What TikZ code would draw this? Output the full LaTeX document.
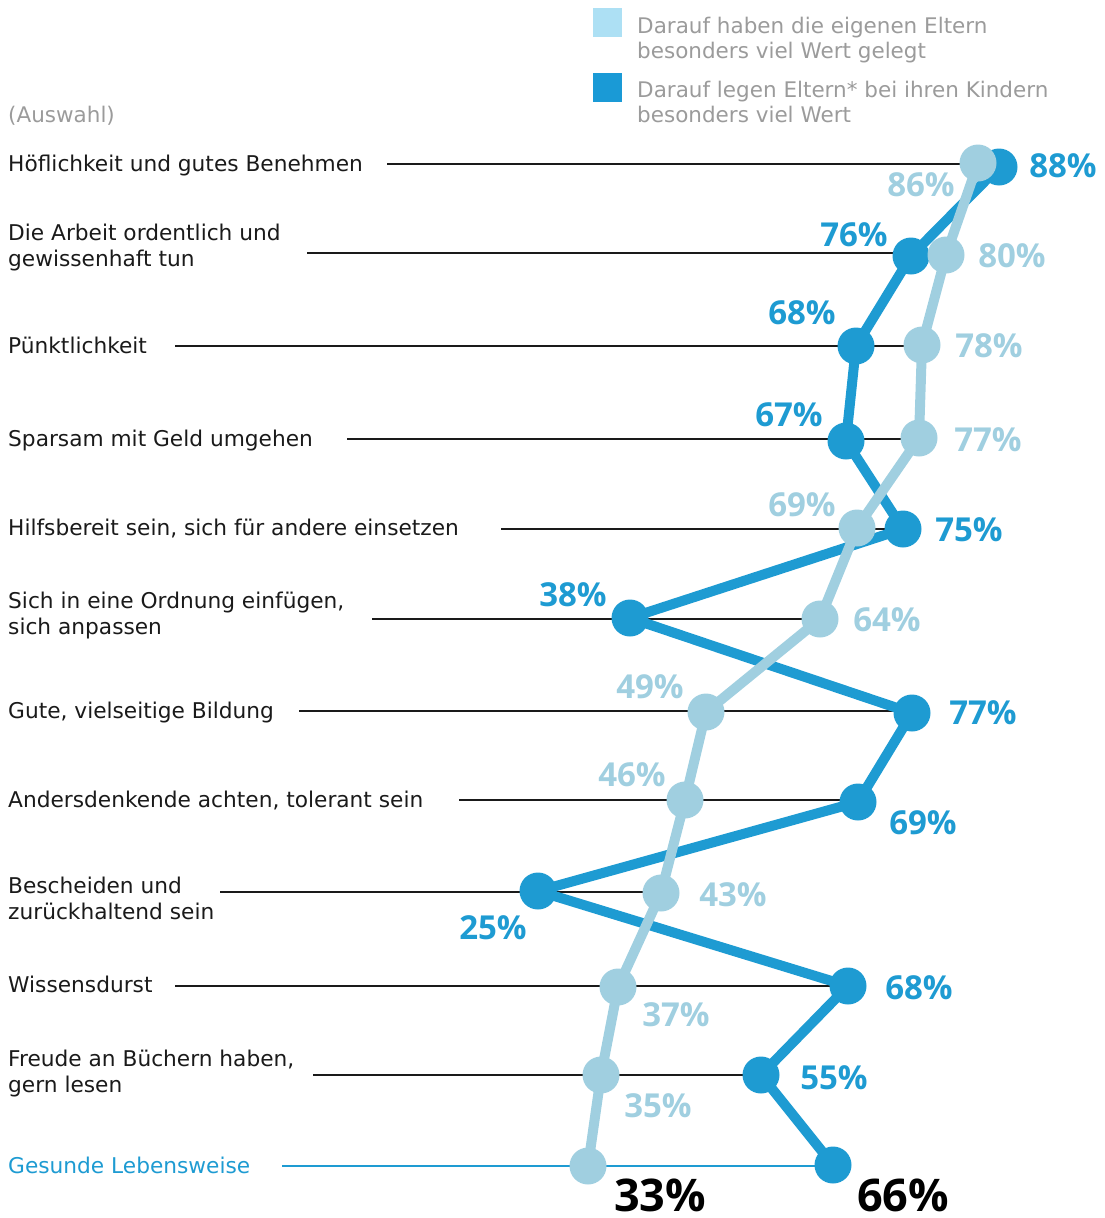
\documentclass[tikz,border=0pt]{standalone}
\usepackage{fontspec}
\setmainfont{DejaVu Sans}
\newfontfamily\pctfont{Open Sans}
\definecolor{lightc}{HTML}{A0CFE0}
\definecolor{darkc}{HTML}{1E9BD2}
\definecolor{legl}{HTML}{ADE0F4}
\definecolor{legd}{HTML}{1A9AD6}
\definecolor{greyt}{HTML}{9B9B9B}
\definecolor{txt}{HTML}{1A1A1A}
\tikzset{
  lab/.style={anchor=base west, inner sep=0pt, font=\fontsize{21.7}{26}\selectfont, text=txt, align=left},
  leg/.style={lab, text=greyt, font=\fontsize{21.5}{25}\selectfont},
  pct/.style={anchor=center, inner sep=0pt, font=\pctfont\bfseries\fontsize{33}{33}\selectfont},
  big/.style={anchor=center, inner sep=0pt, text=black, font=\pctfont\bfseries\fontsize{45}{45}\selectfont},
  ddot/.style={circle, fill=darkc, minimum size=37pt, inner sep=0pt},
  ldot/.style={circle, fill=lightc, minimum size=37pt, inner sep=0pt},
  dline/.style={darkc, line width=10pt, line join=round},
  lline/.style={lightc, line width=10pt, line join=round},
  hline/.style={txt, line width=2.5pt},
  sq/.style={minimum size=29pt, inner sep=0pt}
}
\begin{document}
\begin{tikzpicture}[x=1pt,y=-1pt]
\path[use as bounding box] (0,0) rectangle (1105,1218);
% legend
\node[sq, fill=legl] (sqa) at (607,22) {};
\node[sq, fill=legd] (sqb) at (607,87) {};
\node[leg] (lega) at (637,58) {Darauf haben die eigenen Eltern\\besonders viel Wert gelegt};
\node[leg] (legb) at (637,122) {Darauf legen Eltern* bei ihren Kindern\\besonders viel Wert};
\node[leg] (ausw) at (8,122) {(Auswahl)};
% row labels
\node[lab] (t1) at (8,171) {Höflichkeit und gutes Benehmen};
\node[lab] (t2) at (8,266) {Die Arbeit ordentlich und\\gewissenhaft tun};
\node[lab] (t3) at (8,353) {Pünktlichkeit};
\node[lab] (t4) at (8,446) {Sparsam mit Geld umgehen};
\node[lab] (t5) at (8,535) {Hilfsbereit sein, sich für andere einsetzen};
\node[lab] (t6) at (8,634) {Sich in eine Ordnung einfügen,\\sich anpassen};
\node[lab] (t7) at (8,718) {Gute, vielseitige Bildung};
\node[lab] (t8) at (8,807) {Andersdenkende achten, tolerant sein};
\node[lab] (t9) at (8,919) {Bescheiden und\\zurückhaltend sein};
\node[lab] (t10) at (8,992) {Wissensdurst};
\node[lab] (t11) at (8,1092) {Freude an Büchern haben,\\gern lesen};
\node[lab, text=darkc] (t12) at (8,1173) {Gesunde Lebensweise};
% line starts
\coordinate (s1) at (387,164);
\coordinate (s2) at (307,253);
\coordinate (s3) at (175,346);
\coordinate (s4) at (347,439);
\coordinate (s5) at (501,529);
\coordinate (s6) at (372,619);
\coordinate (s7) at (299,711);
\coordinate (s8) at (459,800);
\coordinate (s9) at (220,892);
\coordinate (s10) at (175,986);
\coordinate (s11) at (313,1075);
\coordinate (s12) at (282,1166);
% data points
\coordinate (d1) at (999,167);
\coordinate (d2) at (911,256);
\coordinate (d3) at (856,346);
\coordinate (d4) at (846,441);
\coordinate (d5) at (903,529);
\coordinate (d6) at (630,618);
\coordinate (d7) at (912,713);
\coordinate (d8) at (858,802);
\coordinate (d9) at (538,891);
\coordinate (d10) at (848,986);
\coordinate (d11) at (761,1075);
\coordinate (d12) at (833,1165);
\coordinate (l1) at (978,163);
\coordinate (l2) at (946,255);
\coordinate (l3) at (922,345);
\coordinate (l4) at (919,438);
\coordinate (l5) at (857,528);
\coordinate (l6) at (820,619);
\coordinate (l7) at (706,712);
\coordinate (l8) at (685,800);
\coordinate (l9) at (661,893);
\coordinate (l10) at (618,987);
\coordinate (l11) at (601,1075);
\coordinate (l12) at (588,1166);
% horizontal lines
\draw[hline] (s1) -- (s1 -| l1);
\draw[hline] (s2) -- (s2 -| l2);
\draw[hline] (s3) -- (s3 -| l3);
\draw[hline] (s4) -- (s4 -| l4);
\draw[hline] (s5) -- (s5 -| d5);
\draw[hline] (s6) -- (s6 -| l6);
\draw[hline] (s7) -- (s7 -| d7);
\draw[hline] (s8) -- (s8 -| d8);
\draw[hline] (s9) -- (s9 -| l9);
\draw[hline] (s10) -- (s10 -| d10);
\draw[hline] (s11) -- (s11 -| d11);
\draw[darkc, line width=2.5pt] (s12) -- (s12 -| d12);
% dark series
\draw[dline] (d1) -- (d2) -- (d3) -- (d4) -- (d5) -- (d6) -- (d7) -- (d8) -- (d9) -- (d10) -- (d11) -- (d12);
\foreach \i in {1,...,12} { \node[ddot] (dd\i) at (d\i) {}; }
% light series
\draw[lline] (l1) -- (l2) -- (l3) -- (l4) -- (l5) -- (l6) -- (l7) -- (l8) -- (l9) -- (l10) -- (l11) -- (l12);
\foreach \i in {1,...,12} { \node[ldot] (ll\i) at (l\i) {}; }
% dark labels
\node[pct, text=darkc] (pd1) at (1063,166) {88\%};
\node[pct, text=darkc] (pd2) at (854,235) {76\%};
\node[pct, text=darkc] (pd3) at (802,313) {68\%};
\node[pct, text=darkc] (pd4) at (789,415) {67\%};
\node[pct, text=darkc] (pd5) at (969,530) {75\%};
\node[pct, text=darkc] (pd6) at (573,595) {38\%};
\node[pct, text=darkc] (pd7) at (983,713) {77\%};
\node[pct, text=darkc] (pd8) at (923,823) {69\%};
\node[pct, text=darkc] (pd9) at (493,928) {25\%};
\node[pct, text=darkc] (pd10) at (919,988) {68\%};
\node[pct, text=darkc] (pd11) at (834,1078) {55\%};
% light labels
\node[pct, text=lightc] (pl1) at (921,185) {86\%};
\node[pct, text=lightc] (pl2) at (1012,256) {80\%};
\node[pct, text=lightc] (pl3) at (989,346) {78\%};
\node[pct, text=lightc] (pl4) at (988,440) {77\%};
\node[pct, text=lightc] (pl5) at (802,505) {69\%};
\node[pct, text=lightc] (pl6) at (887,620) {64\%};
\node[pct, text=lightc] (pl7) at (650,687) {49\%};
\node[pct, text=lightc] (pl8) at (632,775) {46\%};
\node[pct, text=lightc] (pl9) at (733,895) {43\%};
\node[pct, text=lightc] (pl10) at (676,1015) {37\%};
\node[pct, text=lightc] (pl11) at (658,1106) {35\%};
% bottom
\node[big] (b1) at (660,1195) {33\%};
\node[big] (b2) at (903,1195) {66\%};
\end{tikzpicture}
\end{document}
